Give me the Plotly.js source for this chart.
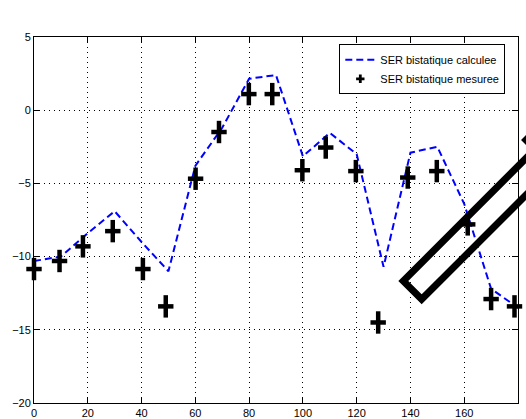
<!DOCTYPE html>
<html>
<head>
<meta charset="utf-8">
<script src="https://cdn.plot.ly/plotly-3.0.1.min.js"></script>
<style>html,body{margin:0;padding:0;background:#fff;}#chart{width:526px;height:419px;}</style>
</head>
<body>
<div id="chart"></div>
<script>
// Calculated bistatic RCS (dashed line)
var calcAngles = [0, 10, 20, 30, 40, 50, 60, 70, 80, 90, 100, 110, 120, 130, 140, 150, 160, 170, 180];
var calcValues = [-10.3, -10.0, -8.4, -6.9, -9.0, -11.0, -3.8, -1.2, 2.15, 2.4, -3.15, -1.55, -3.0, -10.7, -2.9, -2.5, -6.4, -12.2, -13.5];

// Measured bistatic RCS (crosses)
var measAngles = [0, 9.5, 18.2, 29.3, 40.5, 49, 60.1, 68.8, 79.9, 88.6, 99.8, 108.5, 119.7, 128, 139, 149.8, 161.3, 170, 178.7];
var measValues = [-10.85, -10.3, -9.3, -8.26, -10.85, -13.4, -4.68, -1.49, 1.1, 1.1, -4.1, -2.55, -4.16, -14.5, -4.6, -4.16, -7.8, -12.9, -13.4];

var seriesNames = ["SER bistatique calculee", "SER bistatique mesuree"];
var xTicks = [0, 20, 40, 60, 80, 100, 120, 140, 160, 180];
var yTicks = [-20, -15, -10, -5, 0, 5];

var font = "Liberation Sans, Arial, Helvetica, sans-serif";

var traces = [
  {
    x: calcAngles, y: calcValues, type: "scatter", mode: "lines",
    name: seriesNames[0],
    line: {color: "#0000ff", width: 2, dash: "7px,4px"}
  },
  {
    x: measAngles, y: measValues, type: "scatter", mode: "markers",
    showlegend: false, cliponaxis: false, hoverinfo: "skip",
    marker: {symbol: "line-ns", size: 16, color: "#000", line: {color: "#000", width: 4.5}}
  },
  {
    x: measAngles, y: measValues, type: "scatter", mode: "markers",
    showlegend: false, cliponaxis: false, hoverinfo: "skip",
    marker: {symbol: "line-ew", size: 11, color: "#000", line: {color: "#000", width: 4.5}}
  },
  {
    x: [null], y: [null], type: "scatter", mode: "markers",
    name: seriesNames[1],
    marker: {symbol: "cross", size: 7, color: "#000"}
  }
];

var axisCommon = {
  ticks: "inside", ticklen: 6, tickwidth: 1, tickcolor: "#000",
  showline: true, linecolor: "#000", linewidth: 1, mirror: "ticks",
  showgrid: true, gridcolor: "#000", gridwidth: 1, griddash: "1px,4px",
  zeroline: false,
  tickfont: {family: font, size: 11, color: "#000"}
};

var layout = {
  width: 526, height: 419,
  margin: {l: 34, r: 8, t: 37, b: 16, pad: 0},
  paper_bgcolor: "#fff", plot_bgcolor: "#fff",
  font: {family: font, size: 11, color: "#000"},
  xaxis: Object.assign({}, axisCommon, {range: [0, 180], tickvals: xTicks, ticktext: xTicks.map(String)}),
  yaxis: Object.assign({}, axisCommon, {range: [-20, 5], tickvals: yTicks}),
  showlegend: true,
  legend: {
    x: 0.6308, y: 0.98, xanchor: "left", yanchor: "top",
    bgcolor: "#fff", bordercolor: "#000", borderwidth: 1,
    font: {family: font, size: 11, color: "#000"},
    itemwidth: 30, tracegroupgap: 0
  },
  shapes: [
    {
      type: "path", xref: "paper", yref: "paper", layer: "above",
      path: "M 0.7630 0.3333 L 0.8010 0.2833 L 1.1110 0.6932 L 1.0729 0.7432 Z",
      line: {color: "#000", width: 7}, fillcolor: "rgba(0,0,0,0)"
    },
    {
      type: "path", xref: "paper", yref: "paper", layer: "above",
      path: "M 1.0868 0.8115 L 1.0165 0.7186 L 1.0868 0.6257",
      line: {color: "#000", width: 7}, fillcolor: "rgba(0,0,0,0)"
    }
  ]
};

Plotly.newPlot("chart", traces, layout, {staticPlot: true, displayModeBar: false});
</script>
</body>
</html>
